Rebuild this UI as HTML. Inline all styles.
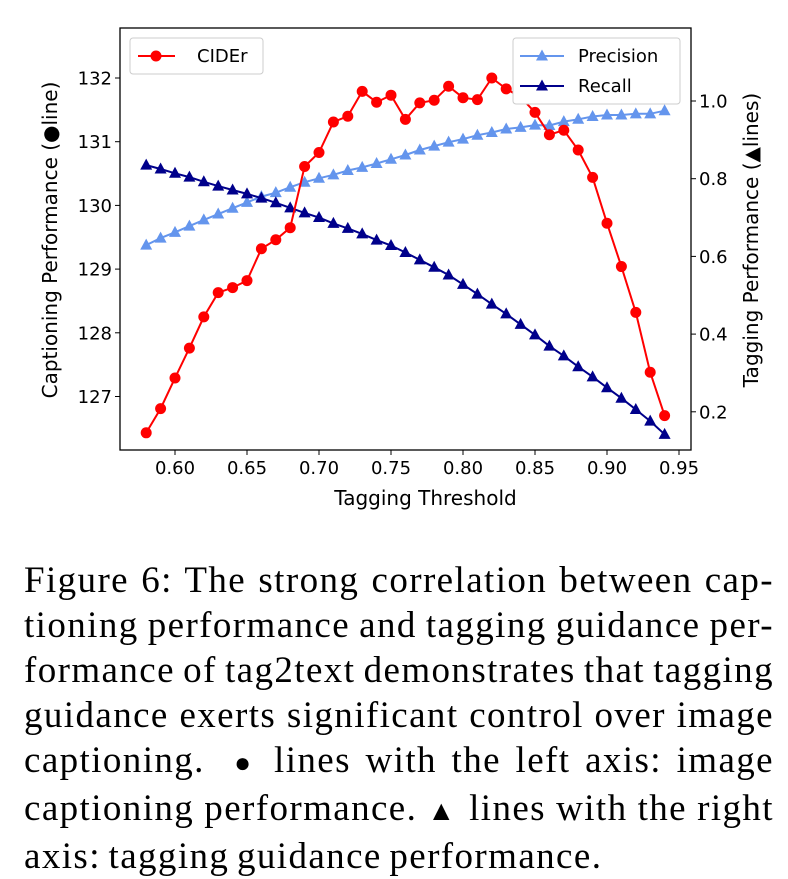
<!DOCTYPE html>
<html><head><meta charset="utf-8"><style>
body{margin:0;width:788px;height:878px;background:#fff;overflow:hidden;position:relative}
svg{position:absolute;left:0;top:0}
.cap{position:absolute;left:24px;width:750px;font-family:"Liberation Serif",serif;font-size:37px;letter-spacing:1.4px;word-spacing:-3px;line-height:45px;color:#000}
.cap div{text-align:justify;text-align-last:justify;white-space:nowrap}
.cap div.last{text-align-last:left}
.sym{font-size:28px}
</style></head><body>
<svg id="chart" width="788" height="520" font-family="DejaVu Sans, sans-serif"></svg>
<div class="cap" style="top:558px">
<div>Figure 6: The strong correlation between cap-</div>
<div>tioning performance and tagging guidance per-</div>
<div>formance of tag2text demonstrates that tagging</div>
<div>guidance exerts significant control over image</div>
<div>captioning.&nbsp; <span class="sym">●</span> lines with the left axis: image</div>
<div>captioning performance. <span class="sym">▲</span> lines with the right</div>
<div class="last">axis: tagging guidance performance.</div>
</div>
<script>
const thresholds=[0.58,0.59,0.60,0.61,0.62,0.63,0.64,0.65,0.66,0.67,0.68,0.69,0.70,0.71,0.72,0.73,0.74,0.75,0.76,0.77,0.78,0.79,0.80,0.81,0.82,0.83,0.84,0.85,0.86,0.87,0.88,0.89,0.90,0.91,0.92,0.93,0.94];
const cider=[126.43,126.81,127.29,127.76,128.25,128.63,128.71,128.82,129.32,129.46,129.65,130.61,130.83,131.31,131.40,131.79,131.62,131.73,131.35,131.61,131.65,131.87,131.69,131.66,132.00,131.83,131.70,131.46,131.11,131.18,130.87,130.44,129.72,129.04,128.32,127.38,126.70];
const precision=[0.629,0.647,0.662,0.678,0.694,0.709,0.724,0.739,0.754,0.764,0.778,0.791,0.801,0.810,0.821,0.829,0.839,0.850,0.861,0.874,0.884,0.894,0.902,0.912,0.919,0.928,0.932,0.938,0.937,0.947,0.953,0.960,0.964,0.964,0.967,0.967,0.975];
const recall=[0.835,0.825,0.814,0.804,0.792,0.781,0.771,0.761,0.750,0.738,0.725,0.712,0.700,0.685,0.672,0.658,0.642,0.628,0.610,0.591,0.572,0.552,0.528,0.503,0.477,0.452,0.425,0.398,0.369,0.344,0.316,0.290,0.262,0.235,0.206,0.176,0.142];
const xTicks=[0.60,0.65,0.70,0.75,0.80,0.85,0.90,0.95];
const leftTicks=[127,128,129,130,131,132];
const rightTicks=[0.2,0.4,0.6,0.8,1.0];

const NS="http://www.w3.org/2000/svg";
const svg=document.getElementById('chart');
const X=v=>175+(v-0.60)*1440;
const YL=v=>78+(132-v)*63.7;
const YR=v=>101+(1.0-v)*388.5;
function mk(tag,attrs,parent){const e=document.createElementNS(NS,tag);for(const k in attrs)e.setAttribute(k,attrs[k]);(parent||svg).appendChild(e);return e;}
function txt(s,attrs){const t=mk('text',attrs);t.textContent=s;return t;}
const L=120,R=691,T=28,B=450;

function series(vals,yf,color,marker,name){
  const g=mk('g',{});
  
  
  const pts=vals.map((v,i)=>X(thresholds[i]).toFixed(1)+','+yf(v).toFixed(1)).join(' ');
  const pl=mk('polyline',{points:pts,fill:'none',stroke:color,'stroke-width':2},g);
  
  
  vals.forEach((v,i)=>{
    const x=X(thresholds[i]),y=yf(v);let m;
    if(marker==='o')m=mk('circle',{cx:x,cy:y,r:5.5,fill:color},g);
    else m=mk('polygon',{points:`${x},${y-6.5} ${x-6},${y+4.5} ${x+6},${y+4.5}`,fill:color},g);
    
    
  });
}
series(precision,YR,'#6495ed','^','precision');
series(recall,YR,'#00008b','^','recall');
series(cider,YL,'#ff0000','o','cider');

const fr=mk('rect',{x:L,y:T,width:R-L,height:B-T,fill:'none',stroke:'#000','stroke-width':1.3});



xTicks.forEach(v=>{const x=X(v);mk('line',{x1:x,x2:x,y1:B,y2:B+5,stroke:'#000'});
  const t=txt(v.toFixed(2),{x:x,y:B+24,'font-size':18,'text-anchor':'middle'});
  });
leftTicks.forEach(v=>{const y=YL(v);mk('line',{x1:L-5,x2:L,y1:y,y2:y,stroke:'#000'});
  const t=txt(String(v),{x:L-8,y:y+6.5,'font-size':18,'text-anchor':'end'});
  });
rightTicks.forEach(v=>{const y=YR(v);mk('line',{x1:R,x2:R+5,y1:y,y2:y,stroke:'#000'});
  const t=txt(v.toFixed(1),{x:R+8,y:y+6.5,'font-size':18});
  });

let t=txt('Tagging Threshold',{x:(L+R)/2+20,y:505,'font-size':20,'text-anchor':'middle'});

t=txt('Captioning Performance (●line)',{x:0,y:0,'font-size':20,'text-anchor':'middle',transform:'translate(57,240) rotate(-90)'});

t=txt('Tagging Performance (▲lines)',{x:0,y:0,'font-size':20,'text-anchor':'middle',transform:'translate(758,240) rotate(-90)'});


const lg1=mk('g',{});


mk('rect',{x:130,y:38,width:133,height:36,rx:3,fill:'#fff',stroke:'#ccc'},lg1);
mk('line',{x1:138,x2:175,y1:56,y2:56,stroke:'#f00','stroke-width':2},lg1);
mk('circle',{cx:156,cy:56,r:5.5,fill:'#f00'},lg1);
let lt=mk('text',{x:197,y:62,'font-size':18},lg1);lt.textContent='CIDEr';

const lg2=mk('g',{});


mk('rect',{x:513,y:38,width:167,height:66,rx:3,fill:'#fff',stroke:'#ccc'},lg2);
mk('line',{x1:520,x2:564,y1:56,y2:56,stroke:'#6495ed','stroke-width':2},lg2);
mk('polygon',{points:'542,49.5 536,60.5 548,60.5',fill:'#6495ed'},lg2);
lt=mk('text',{x:578,y:62,'font-size':18},lg2);lt.textContent='Precision';
mk('line',{x1:520,x2:564,y1:86,y2:86,stroke:'#00008b','stroke-width':2},lg2);
mk('polygon',{points:'542,79.5 536,90.5 548,90.5',fill:'#00008b'},lg2);
lt=mk('text',{x:578,y:92,'font-size':18},lg2);lt.textContent='Recall';
</script>
</body></html>
